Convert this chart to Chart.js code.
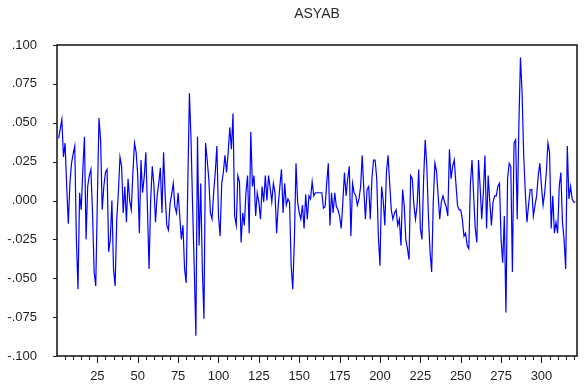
<!DOCTYPE html>
<html>
<head>
<meta charset="utf-8">
<script src="https://cdn.jsdelivr.net/npm/chart.js@4.4.1/dist/chart.umd.min.js"></script>
<style>
  html, body { margin: 0; padding: 0; background: #ffffff; }
  #wrap { width: 586px; height: 387px; position: relative; }
</style>
</head>
<body>
<div id="wrap"><canvas id="chart" width="586" height="387"></canvas></div>
<script>
// Series title
const chartTitle = 'ASYAB';

// Observations 1..54
const asyabPart1 = [0.040, 0.046, 0.052, 0.028, 0.037, 0.009, -0.015, 0.011, 0.024, 0.030,
  0.035, -0.025, -0.057, 0.005, -0.006, 0.020, 0.041, -0.025, 0.009, 0.016,
  0.020, -0.008, -0.046, -0.055, 0.001, 0.053, 0.039, -0.006, 0.009, 0.018,
  0.020, -0.033, -0.025, 0.000, -0.044, -0.055, -0.012, 0.005, 0.028, 0.022,
  -0.008, 0.009, -0.014, 0.014, 0.000, -0.006, 0.018, 0.037, 0.031, 0.016,
  -0.021, 0.026, 0.005, 0.015];
// Observations 55..107
const asyabPart2 = [0.031, -0.005, -0.044, 0.000, 0.022, 0.010, -0.014, 0.003, 0.011, 0.021,
  -0.008, 0.031, 0.003, -0.016, -0.019, -0.002, 0.004, 0.011, -0.004, -0.008,
  0.005, -0.010, -0.025, -0.016, -0.044, -0.053, 0.011, 0.069, 0.039, -0.005,
  -0.044, -0.087, 0.041, -0.029, 0.011, -0.044, -0.076, 0.037, 0.026, 0.014,
  -0.008, -0.012, 0.005, 0.018, 0.035, -0.010, -0.023, 0.011, 0.018, 0.029,
  0.018, 0.031, 0.047];
// Observations 108..160
const asyabPart3 = [0.033, 0.056, -0.010, -0.016, 0.016, 0.012, -0.027, -0.008, -0.016, 0.005,
  0.016, -0.021, 0.044, 0.009, 0.016, -0.010, 0.005, -0.001, -0.012, 0.009,
  -0.001, 0.016, 0.000, 0.016, 0.008, -0.001, 0.011, 0.005, -0.021, -0.003,
  0.009, 0.020, -0.008, 0.011, -0.003, 0.001, -0.001, -0.042, -0.057, -0.025,
  0.024, -0.001, -0.008, -0.012, -0.003, -0.018, 0.004, -0.012, 0.003, 0.001,
  0.012, 0.003, 0.005];
// Observations 161..212
const asyabPart4 = [0.005, 0.005, 0.005, 0.005, -0.005, -0.004, 0.011, 0.024, -0.016, 0.005,
  -0.008, 0.005, -0.004, -0.006, -0.010, -0.018, -0.001, 0.018, 0.003, 0.014,
  0.022, -0.023, 0.011, 0.005, 0.003, -0.003, 0.001, 0.009, 0.029, 0.007,
  -0.012, 0.007, 0.009, -0.012, 0.014, 0.026, 0.026, 0.014, -0.023, -0.042,
  0.009, 0.000, -0.016, 0.018, 0.029, 0.011, -0.006, -0.012, -0.008, -0.006,
  -0.016, -0.012];
// Observations 213..265
const asyabPart5 = [-0.029, 0.007, -0.003, -0.025, -0.031, -0.038, 0.016, 0.014, -0.003, -0.012,
  -0.003, 0.020, -0.018, -0.025, 0.013, 0.039, 0.022, -0.010, -0.033, -0.046,
  -0.001, 0.024, 0.019, 0.003, -0.012, -0.001, 0.003, -0.001, -0.004, -0.010,
  0.033, 0.014, 0.022, 0.026, 0.011, -0.003, -0.006, -0.006, -0.012, -0.023,
  -0.021, -0.029, -0.031, 0.011, 0.026, 0.003, -0.018, -0.027, 0.026, 0.009,
  -0.012, 0.005, 0.029];
// Observations 266..321
const asyabPart6 = [-0.018, 0.016, -0.001, -0.016, -0.001, 0.003, 0.003, 0.009, 0.011, -0.025,
  -0.040, -0.010, -0.072, 0.014, 0.024, 0.022, -0.046, 0.037, 0.039, -0.012,
  0.048, 0.092, 0.069, 0.029, 0.005, -0.014, -0.003, 0.007, 0.007, -0.010,
  -0.003, 0.003, 0.016, 0.024, 0.009, -0.003, 0.005, 0.018, 0.037, 0.031,
  -0.018, 0.003, -0.021, -0.014, -0.021, 0.009, 0.018, -0.014, -0.025, -0.044,
  0.035, 0.001, 0.009, 0.001, -0.001, -0.001];

const asyab = [].concat(asyabPart1, asyabPart2, asyabPart3, asyabPart4, asyabPart5, asyabPart6);

// Axis ticks
const xLabelValues = [25, 50, 75, 100, 125, 150, 175, 200, 225, 250, 275, 300];
const xTickLabels = ['25', '50', '75', '100', '125', '150', '175', '200', '225', '250', '275', '300'];
const yTickValues = [-0.100, -0.075, -0.050, -0.025, 0.000, 0.025, 0.050, 0.075, 0.100];
const yTickLabels = ['-.100', '-.075', '-.050', '-.025', '.000', '.025', '.050', '.075', '.100'];

const points = asyab.map((v, i) => ({ x: i + 1, y: v }));
const xMinorStep = 5;
const xMax = 322;

const INK = '#1e1e1e';
const FONT = '"Liberation Sans", Arial, sans-serif';

// Frame around the plot, tick marks on both axes and the title
const framePlugin = {
  id: 'frameAndTicks',
  afterDraw(chart) {
    const { ctx, chartArea: a, scales } = chart;
    ctx.save();
    ctx.strokeStyle = INK;
    ctx.lineWidth = 1;
    // x tick marks: short every 5 obs, longer at labelled values
    ctx.beginPath();
    scales.x.ticks.forEach(t => {
      const px = Math.round(scales.x.getPixelForValue(t.value)) + 0.5;
      const len = xLabelValues.includes(t.value) ? 7 : 4;
      ctx.moveTo(px, a.bottom);
      ctx.lineTo(px, a.bottom + len);
    });
    // y tick marks pointing left
    scales.y.ticks.forEach(t => {
      const py = Math.round(scales.y.getPixelForValue(t.value)) + 0.5;
      ctx.moveTo(a.left - 4, py);
      ctx.lineTo(a.left, py);
    });
    ctx.stroke();
    // frame
    ctx.lineWidth = 1.6;
    ctx.strokeRect(a.left, a.top, a.right - a.left, a.bottom - a.top);
    // title centred over the plot
    ctx.fillStyle = '#2a2a2a';
    ctx.font = '14px ' + FONT;
    ctx.textAlign = 'center';
    ctx.textBaseline = 'middle';
    ctx.fillText(chartTitle, (a.left + a.right) / 2, 14);
    ctx.restore();
  }
};

new Chart(document.getElementById('chart'), {
  type: 'line',
  data: {
    datasets: [{
      label: chartTitle,
      data: points,
      borderColor: '#0000ff',
      borderWidth: 1.2,
      pointRadius: 0,
      tension: 0,
      fill: false
    }]
  },
  options: {
    responsive: false,
    animation: false,
    layout: { padding: { top: 45, right: 9, left: 0, bottom: 0 } },
    plugins: {
      legend: { display: false },
      title: { display: false },
      tooltip: { enabled: false }
    },
    scales: {
      x: {
        type: 'linear',
        min: 0,
        max: xMax,
        grid: { display: false },
        border: { display: false },
        afterBuildTicks(scale) {
          const ticks = [];
          for (let v = xMinorStep; v < xMax; v += xMinorStep) ticks.push({ value: v });
          scale.ticks = ticks;
        },
        afterFit(scale) { scale.height = 31; },
        ticks: {
          autoSkip: false,
          maxRotation: 0,
          padding: 5,
          color: INK,
          font: { family: FONT, size: 13 },
          callback(value) {
            const k = xLabelValues.indexOf(value);
            return k >= 0 ? xTickLabels[k] : '';
          }
        }
      },
      y: {
        type: 'linear',
        min: -0.1,
        max: 0.1,
        grid: { display: false },
        border: { display: false },
        afterBuildTicks(scale) {
          scale.ticks = yTickValues.map(v => ({ value: v }));
        },
        afterFit(scale) { scale.width = 57; },
        ticks: {
          padding: 12,
          color: INK,
          font: { family: FONT, size: 13 },
          callback(value, index) { return yTickLabels[index]; }
        }
      }
    }
  },
  plugins: [framePlugin]
});
</script>
</body>
</html>
